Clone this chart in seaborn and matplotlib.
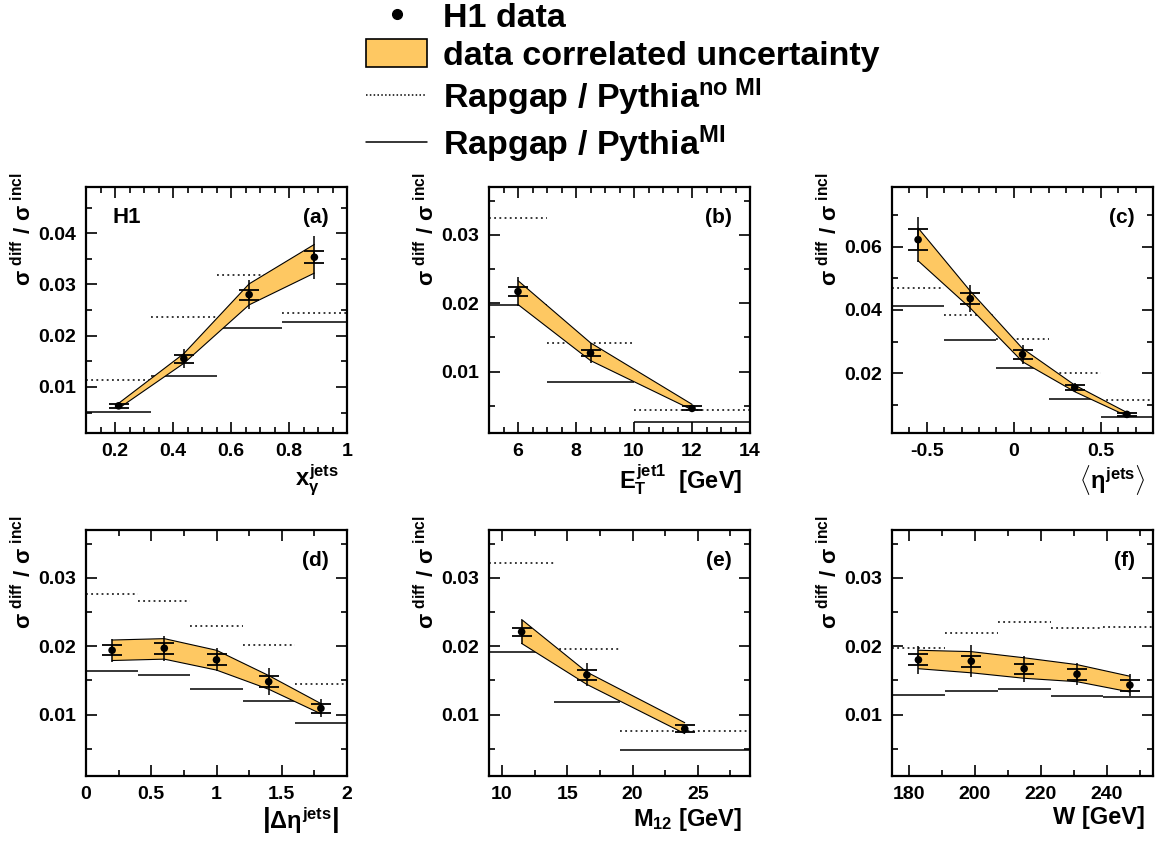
import matplotlib
matplotlib.use('Agg')
import matplotlib.pyplot as plt
from matplotlib.lines import Line2D
from matplotlib.patches import Patch
from matplotlib.ticker import MultipleLocator, FormatStrFormatter
import numpy as np
import seaborn as sns

sns.set_style('ticks')
plt.rcParams['font.family'] = ['Liberation Sans', 'DejaVu Sans']
plt.rcParams['font.weight'] = 'bold'
plt.rcParams['axes.labelweight'] = 'bold'
plt.rcParams['text.color'] = 'black'
plt.rcParams['axes.labelcolor'] = 'black'
plt.rcParams['axes.edgecolor'] = 'black'
plt.rcParams['xtick.color'] = 'black'
plt.rcParams['ytick.color'] = 'black'
plt.rcParams['axes.unicode_minus'] = False
plt.rcParams['mathtext.fontset'] = 'custom'
plt.rcParams['mathtext.rm'] = 'Liberation Sans:bold'
plt.rcParams['mathtext.it'] = 'Liberation Sans:bold'
plt.rcParams['mathtext.bf'] = 'Liberation Sans:bold'
plt.rcParams['mathtext.sf'] = 'Liberation Sans:bold'

BAND_COLOR = '#fec862'

# (a) x_gamma^jets
XG_EDGES = [0.1, 0.325, 0.55, 0.775, 1.0]
XG_X = [0.2125, 0.4375, 0.6625, 0.8875]
XG_Y = [0.0063, 0.0155, 0.0280, 0.0353]
XG_STAT = [0.0004, 0.0008, 0.0010, 0.0012]
XG_TOT = [0.0006, 0.0018, 0.0028, 0.0042]
XG_LO = [0.0058, 0.0146, 0.0260, 0.0322]
XG_HI = [0.0068, 0.0165, 0.0301, 0.0378]
XG_NOMI = [0.0113, 0.0236, 0.0318, 0.0245]
XG_MI = [0.0051, 0.0122, 0.0215, 0.0227]

# (b) E_T jet1
ET_EDGES = [5, 7, 10, 14]
ET_X = [6, 8.5, 12]
ET_Y = [0.0217, 0.0127, 0.0046]
ET_STAT = [0.0006, 0.0005, 0.0003]
ET_TOT = [0.0021, 0.0015, 0.0005]
ET_LO = [0.0198, 0.0116, 0.0044]
ET_HI = [0.0233, 0.0142, 0.0052]
ET_NOMI = [0.0325, 0.0142, 0.0043]
ET_MI = [0.0198, 0.0084, 0.0026]

# (c) <eta^jets>
ETA_EDGES = [-0.7, -0.4, -0.1, 0.2, 0.5, 0.8]
ETA_X = [-0.55, -0.25, 0.05, 0.35, 0.65]
ETA_Y = [0.0623, 0.0436, 0.0259, 0.0154, 0.0069]
ETA_STAT = [0.0034, 0.0017, 0.0014, 0.0008, 0.0004]
ETA_TOT = [0.0071, 0.0043, 0.0029, 0.0014, 0.0006]
ETA_LO = [0.0556, 0.0406, 0.0236, 0.0141, 0.0064]
ETA_HI = [0.0660, 0.0460, 0.0278, 0.0162, 0.0075]
ETA_NOMI = [0.0469, 0.0384, 0.0309, 0.0200, 0.0115]
ETA_MI = [0.0414, 0.0306, 0.0216, 0.0119, 0.0061]

# (d) |delta eta^jets|
DETA_EDGES = [0, 0.4, 0.8, 1.2, 1.6, 2.0]
DETA_X = [0.2, 0.6, 1.0, 1.4, 1.8]
DETA_Y = [0.0194, 0.0197, 0.0180, 0.0148, 0.0109]
DETA_STAT = [0.0007, 0.0008, 0.0008, 0.0008, 0.0007]
DETA_TOT = [0.0017, 0.0018, 0.0017, 0.0020, 0.0013]
DETA_LO = [0.0179, 0.0181, 0.0165, 0.0137, 0.0101]
DETA_HI = [0.0209, 0.0211, 0.0194, 0.0157, 0.0116]
DETA_NOMI = [0.0276, 0.0266, 0.0229, 0.0201, 0.0144]
DETA_MI = [0.0163, 0.0158, 0.0137, 0.0120, 0.0087]

# (e) M12
M12_EDGES = [9, 14, 19, 29]
M12_X = [11.5, 16.5, 24]
M12_Y = [0.0221, 0.0158, 0.0079]
M12_STAT = [0.0006, 0.0007, 0.0005]
M12_TOT = [0.0018, 0.0017, 0.0006]
M12_LO = [0.0204, 0.0144, 0.0072]
M12_HI = [0.0239, 0.0162, 0.0088]
M12_NOMI = [0.0322, 0.0196, 0.0076]
M12_MI = [0.0191, 0.0118, 0.0048]

# (f) W
W_EDGES = [175, 191, 207, 223, 239, 255]
W_X = [183, 199, 215, 231, 247]
W_Y = [0.0180, 0.0178, 0.0167, 0.0159, 0.0143]
W_STAT = [0.0008, 0.0008, 0.0007, 0.0008, 0.0008]
W_TOT = [0.0020, 0.0023, 0.0019, 0.0016, 0.0016]
W_LO = [0.0167, 0.0161, 0.0153, 0.0148, 0.0133]
W_HI = [0.0194, 0.0192, 0.0183, 0.0173, 0.0156]
W_NOMI = [0.0198, 0.0220, 0.0235, 0.0227, 0.0228]
W_MI = [0.0128, 0.0134, 0.0138, 0.0127, 0.0125]

panels = [
    dict(edges=XG_EDGES, x=XG_X, y=XG_Y, stat=XG_STAT, tot=XG_TOT, lo=XG_LO, hi=XG_HI,
         nomi=XG_NOMI, mi=XG_MI, xlim=(0.1, 1.0), ylim=(0.001, 0.049), xmaj=0.2, xmin=0.05,
         ymaj=0.01, ymin=0.005, tag='(a)', xlabel=r'$x_{\gamma}^{jets}$'),
    dict(edges=ET_EDGES, x=ET_X, y=ET_Y, stat=ET_STAT, tot=ET_TOT, lo=ET_LO, hi=ET_HI,
         nomi=ET_NOMI, mi=ET_MI, xlim=(5, 14), ylim=(0.001, 0.037), xmaj=2, xmin=0.5,
         ymaj=0.01, ymin=0.005, tag='(b)', xlabel=r'$E_{T}^{jet1}$  [GeV]'),
    dict(edges=ETA_EDGES, x=ETA_X, y=ETA_Y, stat=ETA_STAT, tot=ETA_TOT, lo=ETA_LO, hi=ETA_HI,
         nomi=ETA_NOMI, mi=ETA_MI, xlim=(-0.7, 0.8), ylim=(0.001, 0.079), xmaj=0.5, xmin=0.1,
         ymaj=0.02, ymin=0.01, tag='(c)', xlabel=r'$\langle\eta^{jets}\rangle$'),
    dict(edges=DETA_EDGES, x=DETA_X, y=DETA_Y, stat=DETA_STAT, tot=DETA_TOT, lo=DETA_LO, hi=DETA_HI,
         nomi=DETA_NOMI, mi=DETA_MI, xlim=(0, 2), ylim=(0.001, 0.037), xmaj=0.5, xmin=0.25,
         ymaj=0.01, ymin=0.005, tag='(d)', xlabel=r'$\left|\Delta\eta^{jets}\right|$'),
    dict(edges=M12_EDGES, x=M12_X, y=M12_Y, stat=M12_STAT, tot=M12_TOT, lo=M12_LO, hi=M12_HI,
         nomi=M12_NOMI, mi=M12_MI, xlim=(9, 29), ylim=(0.001, 0.037), xmaj=5, xmin=2.5,
         ymaj=0.01, ymin=0.005, tag='(e)', xlabel=r'$M_{12}$ [GeV]'),
    dict(edges=W_EDGES, x=W_X, y=W_Y, stat=W_STAT, tot=W_TOT, lo=W_LO, hi=W_HI,
         nomi=W_NOMI, mi=W_MI, xlim=(175, 254), ylim=(0.001, 0.037), xmaj=20, xmin=10,
         ymaj=0.01, ymin=0.005, tag='(f)', xlabel='W [GeV]'),
]

fig = plt.figure(figsize=(11.59, 8.43), dpi=100)
W, H = 1159, 843
lefts = [86, 489, 892]
tops = [187, 530]
aw, ah = 261, 246

for i, p in enumerate(panels):
    row, col = divmod(i, 3)
    ax = fig.add_axes([lefts[col] / W, 1 - (tops[row] + ah) / H, aw / W, ah / H])

    edges = np.array(p['edges'], dtype=float)
    ax.hlines(p['nomi'], edges[:-1], edges[1:], colors='black', linestyles=(0, (1.2, 2.2)), linewidth=1.1)
    ax.hlines(p['mi'], edges[:-1], edges[1:], colors='black', linestyles='-', linewidth=1.1)

    ax.fill_between(p['x'], p['lo'], p['hi'], facecolor=BAND_COLOR, edgecolor='none', zorder=2)
    ax.plot(p['x'], p['lo'], color='black', linewidth=0.8, zorder=3)
    ax.plot(p['x'], p['hi'], color='black', linewidth=0.8, zorder=3)

    ax.errorbar(p['x'], p['y'], yerr=p['tot'], fmt='none', ecolor='black', elinewidth=1.1, capsize=0, zorder=4)
    ax.errorbar(p['x'], p['y'], yerr=p['stat'], fmt='none', ecolor='black', elinewidth=1.1,
                capsize=7, capthick=1.3, zorder=4)
    sns.scatterplot(x=p['x'], y=p['y'], color='black', s=30, edgecolor='none', ax=ax, zorder=5)

    ax.set_xlim(*p['xlim'])
    ax.set_ylim(*p['ylim'])
    ax.xaxis.set_major_locator(MultipleLocator(p['xmaj']))
    ax.xaxis.set_minor_locator(MultipleLocator(p['xmin']))
    ax.yaxis.set_major_locator(MultipleLocator(p['ymaj']))
    ax.yaxis.set_minor_locator(MultipleLocator(p['ymin']))
    ax.xaxis.set_major_formatter(FormatStrFormatter('%g'))
    ax.yaxis.set_major_formatter(FormatStrFormatter('%g'))
    ax.tick_params(which='both', direction='in', top=True, right=True, labelsize=14, width=1.2)
    ax.tick_params(which='major', length=8, pad=7)
    ax.tick_params(which='minor', length=4)
    for s in ax.spines.values():
        s.set_linewidth(1.6)
        s.set_visible(True)

    ax.set_ylabel(r'$\sigma^{\ diff}\ /\ \sigma^{\ incl}$', fontsize=16, loc='top')
    ax.yaxis.set_label_coords(-0.19, 1.06)
    ax.set_xlabel(p['xlabel'], fontsize=17, loc='right')
    ax.xaxis.set_label_coords(0.97, -0.12)

    ax.text(0.93, 0.875, p['tag'], transform=ax.transAxes, ha='right', va='center', fontsize=15)
    if i == 0:
        ax.text(0.1, 0.875, 'H1', transform=ax.transAxes, ha='left', va='center', fontsize=16)

handles = [
    Line2D([], [], marker='o', color='black', linestyle='none', markersize=7),
    Patch(facecolor=BAND_COLOR, edgecolor='black', linewidth=1.2),
    Line2D([], [], color='black', linestyle=(0, (1, 1.5)), linewidth=1.1),
    Line2D([], [], color='black', linestyle='-', linewidth=1.1),
]
labels = ['H1 data', 'data correlated uncertainty',
          r'Rapgap / Pythia$^{no\ MI}$', r'Rapgap / Pythia$^{MI}$']
fig.legend(handles, labels, loc='upper left', bbox_to_anchor=(366 / W, 0.999), frameon=False,
           fontsize=24.5, handlelength=1.8, handleheight=0.9, handletextpad=0.45,
           labelspacing=0.15, borderpad=0.0, borderaxespad=0.0)

fig.savefig('out.png', dpi=100)
